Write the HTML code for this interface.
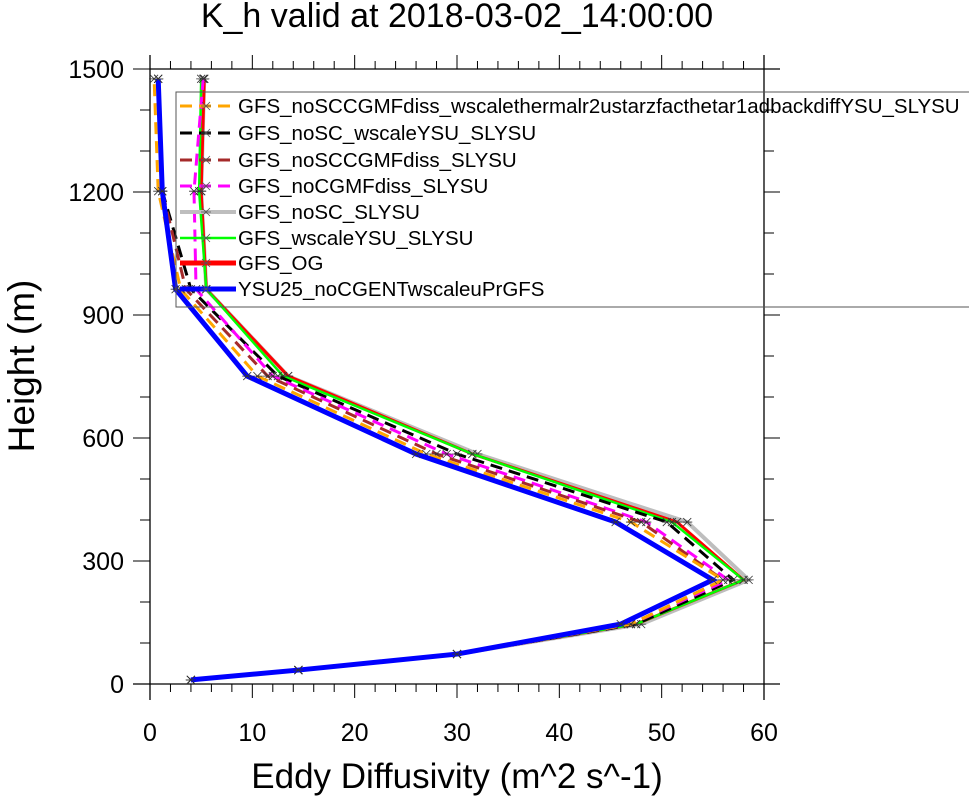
<!DOCTYPE html>
<html><head><meta charset="utf-8"><style>
body{margin:0;background:#fff;}
svg{display:block;font-family:"Liberation Sans",sans-serif;}
</style></head><body>
<svg id="chart" width="969" height="796" viewBox="0 0 969 796"></svg>
<script>
const levels=[10,34,73,146,254,395,561,751,963,1202,1476];
const seriesNames=["GFS_noSCCGMFdiss_wscalethermalr2ustarzfacthetar1adbackdiffYSU_SLYSU","GFS_noSC_wscaleYSU_SLYSU","GFS_noSCCGMFdiss_SLYSU","GFS_noCGMFdiss_SLYSU","GFS_noSC_SLYSU","GFS_wscaleYSU_SLYSU","GFS_OG","YSU25_noCGENTwscaleuPrGFS"];
const sOrange=[4,14.5,30,47,56,47,27,10.5,3,0.8,0.4];
const sBlack=[4,14.5,30,47.5,57,50.5,30,12.5,4,1.2,0.8];
const sBrown=[4,14.5,30,47,56,48,28,11.5,3.5,1.2,0.8];
const sMagenta=[4,14.5,30,47,56.5,48.5,29,12,4.5,4.3,5.2];
const sGrey=[4,14.5,30,48,58.5,52.5,32,13.5,5.5,5,5.3];
const sGreen=[4,14.5,30,47.5,58,51,31.5,13,5.5,4.8,5];
const sRed=[4,14.5,30,47.5,58,51.5,31.5,13.5,5.5,5,5.3];
const sBlue=[4,14.5,30,46,55,45.5,26,9.5,2.5,1.2,0.8];
const xTicks=[0,10,20,30,40,50,60];
const yTicks=[0,300,600,900,1200,1500];
const styles=[
 {c:"#ffa500",w:3,d:"12,7"},{c:"#000",w:3,d:"12,7"},{c:"#a52a2a",w:3,d:"12,7"},{c:"#ff00ff",w:3,d:"12,7"},
 {c:"#bebebe",w:4,d:""},{c:"#00ff00",w:2.5,d:""},{c:"#ff0000",w:3,d:""},{c:"#0000ff",w:5,d:""}];
const allSeries=[sOrange,sBlack,sBrown,sMagenta,sGrey,sGreen,sRed,sBlue];
const drawOrder=[4,6,5,1,3,2,0,7];
const X0=150,X1=764,Y0=684,Y1=69;
const xs=v=>X0+(v/60)*(X1-X0);
const ys=v=>Y0-(v/1500)*(Y0-Y1);
const svg=document.getElementById('chart');
const NS="http://www.w3.org/2000/svg";
function mk(t,a,txt){const e=document.createElementNS(NS,t);for(const k in a)e.setAttribute(k,a[k]);if(txt!=null)e.textContent=txt;svg.appendChild(e);return e;}
let e;
e=mk('text',{x:457,y:27,'font-size':34,'text-anchor':'middle'},'K_h valid at 2018-03-02_14:00:00');


e=mk('path',{d:`M${X0} ${Y1}H780M133 ${Y0}H780M${X0} 55V700M${X1} 55V700`,stroke:'#000','stroke-width':1.3,fill:'none'});


let td='';
for(let v=0;v<=60;v+=2){const x=xs(v);const maj=v%10===0;td+=`M${x} ${Y0}V${Y0+(maj?14:8)}M${x} ${Y1}V${Y1-(maj?14:8)}`;}
for(let v=0;v<=1500;v+=100){const y=ys(v);const maj=v%300===0;td+=`M${X0} ${y}H${X0-(maj?17:10)}M${X1} ${y}H${X1+(maj?16:10)}`;}
e=mk('path',{d:td,stroke:'#000','stroke-width':1,fill:'none'});


xTicks.forEach(v=>{e=mk('text',{x:xs(v),y:741,'font-size':25,'text-anchor':'middle'},String(v));

});
yTicks.forEach(v=>{e=mk('text',{x:124,y:ys(v)+9,'font-size':25,'text-anchor':'end'},String(v));

});
e=mk('text',{x:457,y:788,'font-size':35,'text-anchor':'middle'},'Eddy Diffusivity (m^2 s^-1)');


e=mk('text',{x:0,y:0,'font-size':37,'text-anchor':'middle',transform:'translate(34,366) rotate(-90)'},'Height (m)');


drawOrder.forEach(i=>{const s=allSeries[i],st=styles[i];
 const pts=s.map((v,j)=>xs(v)+','+ys(levels[j])).join(' ');
 e=mk('polyline',{points:pts,fill:'none',stroke:st.c,'stroke-width':st.w,'stroke-dasharray':st.d,'stroke-linejoin':'miter'});
 
 
 let md='';s.forEach((v,j)=>{const x=xs(v),y=ys(levels[j]);md+=`M${x-5} ${y}H${x+5}M${x-4} ${y-4}L${x+4} ${y+4}M${x-4} ${y+4}L${x+4} ${y-4}`;});
 e=mk('path',{d:md,stroke:'#333','stroke-width':0.8,fill:'none'});
 
 
});
e=mk('rect',{x:176,y:92,width:800,height:215,fill:'none',stroke:'#555','stroke-width':1});


const ly=[106,133,160,186,212,238,263,289];
seriesNames.forEach((n,i)=>{const st=styles[i];const y=ly[i];
 e=mk('line',{x1:180,y1:y,x2:236,y2:y,stroke:st.c,'stroke-width':i>=6?5:st.w,'stroke-dasharray':st.d});
 
 
 e=mk('path',{d:`M201 ${y}H211M202 ${y-4}L210 ${y+4}M202 ${y+4}L210 ${y-4}`,stroke:'#555','stroke-width':0.8});
 
 
 e=mk('text',{x:238,y:y+7,'font-size':20.5},n);
 
 
});
</script>
</body></html>
